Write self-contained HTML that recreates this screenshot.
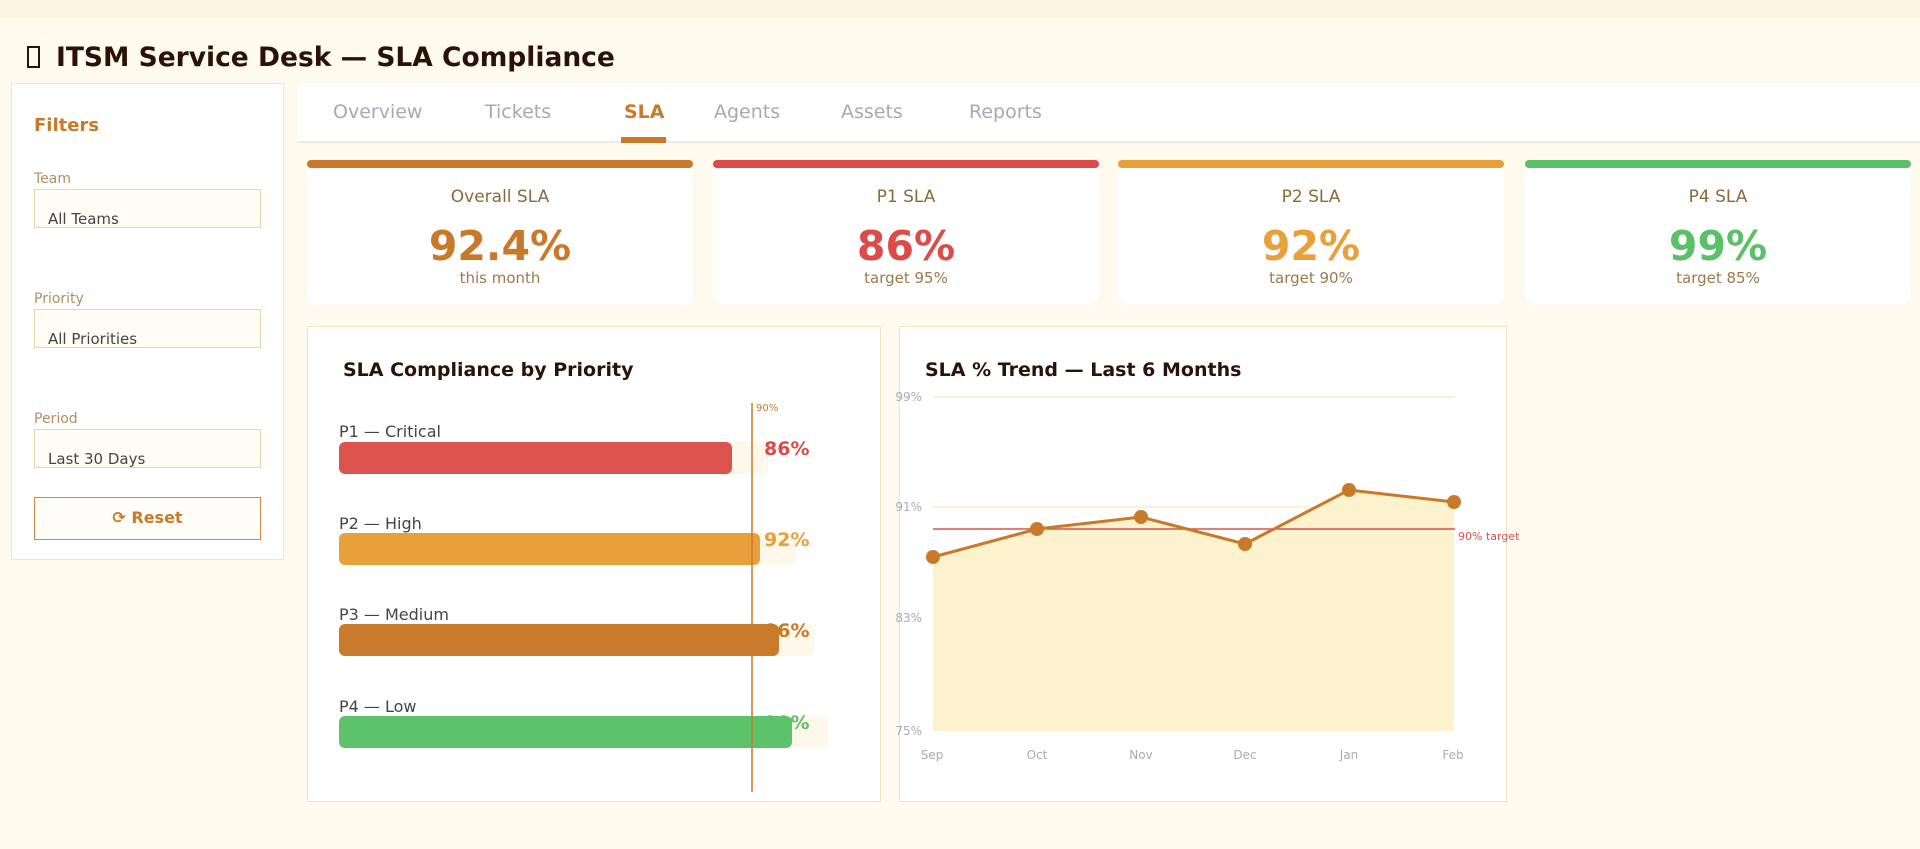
<!DOCTYPE html>
<html><head><meta charset="utf-8"><style>
*{margin:0;padding:0;box-sizing:border-box}
body{width:1920px;height:849px;background:#fefaed;font-family:"DejaVu Sans","Liberation Sans",sans-serif;position:relative;overflow:hidden}
.a{position:absolute}
.top{left:0;top:0;width:1920px;height:18px;background:#fbf5e2}
.title{left:27px;top:42px;font-size:26.5px;font-weight:bold;color:#2a1208;white-space:nowrap}
.box{display:inline-block;width:13px;height:22px;border:2px solid #2a1208;vertical-align:-2px;margin-right:16px}
.side{left:11px;top:83px;width:273px;height:477px;background:#fff;border:1.5px solid #f2e6bf}
.lbl{font-size:14px;color:#b09060}
.sel{width:227px;height:39px;border:1.5px solid #e8d9a4;background:#fffdf5;font-size:15px;color:#444;padding:20px 0 0 13px}
.tabs{left:298px;top:83px;width:1622px;height:60px;background:#fff;border-bottom:2px solid #eeeae4}
.tab{top:101px;font-size:19px;color:#a6a8b8}
.card{width:386px;height:145px;background:#fff;border-radius:12px;text-align:center}
.bar{height:8px;border-radius:4px;position:absolute;left:0;top:0;width:100%}
.cl{position:absolute;top:27px;width:100%;font-size:17px;color:#8a6a3a}
.cv{position:absolute;top:62px;width:100%;font-size:41px;font-weight:bold}
.cs{position:absolute;top:109px;width:100%;font-size:15px;color:#9a7a4a}
.panel{background:#fff;border:1.5px solid #f2e6bf}
</style></head><body>
<div class="a top"></div>
<div class="a title"><span class="box"></span>ITSM Service Desk — SLA Compliance</div>

<div class="a side"></div>
<div class="a" style="left:34px;top:115px;font-size:18px;font-weight:bold;color:#c87a2a">Filters</div>
<div class="a lbl" style="left:34px;top:171px">Team</div>
<div class="a sel" style="left:34px;top:189px">All Teams</div>
<div class="a lbl" style="left:34px;top:291px">Priority</div>
<div class="a sel" style="left:34px;top:309px">All Priorities</div>
<div class="a lbl" style="left:34px;top:411px">Period</div>
<div class="a sel" style="left:34px;top:429px">Last 30 Days</div>
<div class="a" style="left:34px;top:497px;width:227px;height:43px;border:1.5px solid #d08a48;background:#fffdf7;color:#c87a2a;font-weight:bold;font-size:16px;text-align:center;line-height:40px">⟳ Reset</div>

<div class="a tabs"></div>
<div class="a tab" style="left:333px">Overview</div>
<div class="a tab" style="left:485px">Tickets</div>
<div class="a tab" style="left:624px;color:#c87a2a;font-weight:bold">SLA</div>
<div class="a tab" style="left:714px">Agents</div>
<div class="a tab" style="left:841px">Assets</div>
<div class="a tab" style="left:969px">Reports</div>
<div class="a" style="left:621px;top:137px;width:45px;height:6px;background:#c87a2a"></div>

<div class="a card" style="left:307px;top:160px"><div class="bar" style="background:#c87a2a"></div><div class="cl">Overall SLA</div><div class="cv" style="color:#c87a2a">92.4%</div><div class="cs">this month</div></div>
<div class="a card" style="left:713px;top:160px"><div class="bar" style="background:#dc4b48"></div><div class="cl">P1 SLA</div><div class="cv" style="color:#dc4b48">86%</div><div class="cs">target 95%</div></div>
<div class="a card" style="left:1118px;top:160px"><div class="bar" style="background:#e8a03a"></div><div class="cl">P2 SLA</div><div class="cv" style="color:#e8a03a">92%</div><div class="cs">target 90%</div></div>
<div class="a card" style="left:1525px;top:160px"><div class="bar" style="background:#5cc068"></div><div class="cl">P4 SLA</div><div class="cv" style="color:#5cc068">99%</div><div class="cs">target 85%</div></div>

<div class="a panel" style="left:307px;top:326px;width:574px;height:476px"></div>
<div class="a panel" style="left:899px;top:326px;width:608px;height:476px"></div>

<svg class="a" style="left:0;top:0" width="1920" height="849" font-family="DejaVu Sans, Liberation Sans, sans-serif">
<text x="343" y="376" font-size="19" font-weight="bold" fill="#2a1208">SLA Compliance by Priority</text>
<g font-size="16" fill="#444">
<text x="339" y="437">P1 — Critical</text>
<text x="339" y="529">P2 — High</text>
<text x="339" y="620">P3 — Medium</text>
<text x="339" y="712">P4 — Low</text>
</g>
<g fill="#fdf8ea">
<rect x="339" y="442" width="429" height="32" rx="6"/>
<rect x="339" y="533" width="457" height="32" rx="6"/>
<rect x="339" y="624" width="475" height="32" rx="6"/>
<rect x="339" y="716" width="489" height="32" rx="6"/>
</g>
<g font-size="19" font-weight="bold">
<text x="764" y="455" fill="#dc4b48">86%</text>
<text x="764" y="546" fill="#e8a03a">92%</text>
<text x="764" y="637" fill="#c87a2a">96%</text>
<text x="764" y="729" fill="#5cc068">99%</text>
</g>
<rect x="339" y="442" width="393" height="32" rx="6" fill="#dc524c"/>
<rect x="339" y="533" width="421" height="32" rx="6" fill="#e8a03a"/>
<rect x="339" y="624" width="440" height="32" rx="6" fill="#c97a2b"/>
<rect x="339" y="716" width="453" height="32" rx="6" fill="#5cc36a"/>
<line x1="752" y1="403" x2="752" y2="792" stroke="#c87a2a" stroke-width="1.5"/>
<text x="756" y="411" font-size="10" fill="#c87a2a">90%</text>

<text x="925" y="376" font-size="19" font-weight="bold" fill="#2a1208">SLA % Trend — Last 6 Months</text>
<line x1="933" y1="397" x2="1455" y2="397" stroke="#f6edc8" stroke-width="1.5"/>
<line x1="933" y1="507" x2="1455" y2="507" stroke="#f6edc8" stroke-width="1.5"/>
<polygon points="933,557 1037,529 1141,517 1245,544 1349,490 1454,502 1454,731 933,731" fill="#fcf2cd"/>
<line x1="933" y1="529" x2="1455" y2="529" stroke="#d9534f" stroke-width="1.5"/>
<text x="1458" y="540" font-size="11" fill="#d9534f">90% target</text>
<polyline points="933,557 1037,529 1141,517 1245,544 1349,490 1454,502" fill="none" stroke="#c87a2a" stroke-width="3"/>
<g fill="#c87a2a">
<circle cx="933" cy="557" r="7"/><circle cx="1037" cy="529" r="7"/><circle cx="1141" cy="517" r="7"/>
<circle cx="1245" cy="544" r="7"/><circle cx="1349" cy="490" r="7"/><circle cx="1454" cy="502" r="7"/>
</g>
<g font-size="12" fill="#a8aab8">
<text x="922" y="401" text-anchor="end">99%</text>
<text x="922" y="511" text-anchor="end">91%</text>
<text x="922" y="622" text-anchor="end">83%</text>
<text x="922" y="735" text-anchor="end">75%</text>
<g text-anchor="middle">
<text x="932" y="759">Sep</text><text x="1037" y="759">Oct</text><text x="1141" y="759">Nov</text>
<text x="1245" y="759">Dec</text><text x="1349" y="759">Jan</text><text x="1453" y="759">Feb</text>
</g>
</g>
</svg>
</body></html>
